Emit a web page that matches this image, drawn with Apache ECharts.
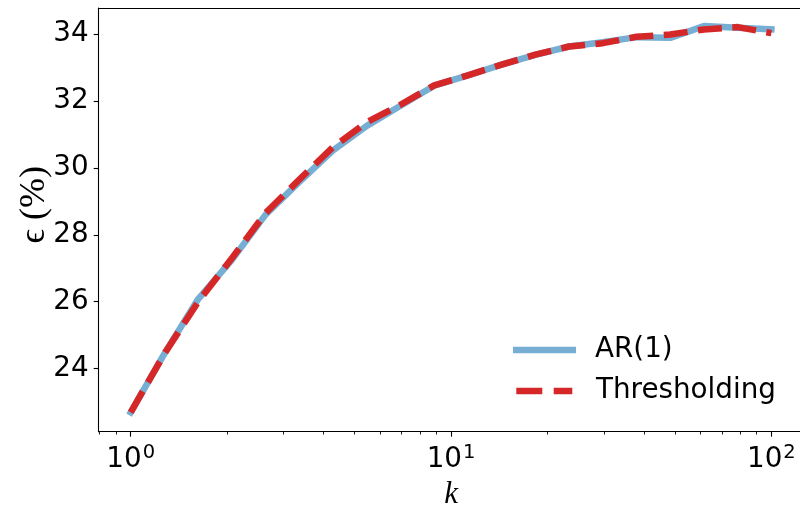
<!DOCTYPE html>
<html>
<head>
<meta charset="utf-8">
<script src="https://cdn.jsdelivr.net/npm/echarts@6/dist/echarts.min.js"></script>
<style>html,body{margin:0;padding:0;background:#fff;}#c{width:800px;height:506px;}</style>
</head>
<body>
<div id="c"></div>
<script>
// k values (log-spaced, 20 points from 1 to 100)
const kValues = [1, 1.274, 1.624, 2.069, 2.637, 3.360, 4.281, 5.456, 6.952, 8.859,
                 11.288, 14.384, 18.330, 23.357, 29.764, 37.927, 48.329, 61.585, 78.476, 100];
const ar1 = [22.70, 24.45, 26.08, 27.25, 28.60, 29.58, 30.52, 31.25, 31.85, 32.45,
             32.76, 33.08, 33.37, 33.62, 33.75, 33.90, 33.88, 34.23, 34.18, 34.13];
const thresholding = [22.70, 24.45, 26.00, 27.30, 28.65, 29.65, 30.62, 31.36, 31.88, 32.46,
                      32.76, 33.08, 33.38, 33.62, 33.72, 33.91, 33.98, 34.13, 34.20, 34.02];
const xMajorTicks = [1, 10, 100];
const xMinorTicks = [0.8, 0.9, 2, 3, 4, 5, 6, 7, 8, 9, 20, 30, 40, 50, 60, 70, 80, 90];
const yTicks = [24, 26, 28, 30, 32, 34];
const seriesNames = ['AR(1)', 'Thresholding'];

const xMin = 0.7943, xMax = 125.89;
const yMin = 22.12, yMax = 34.77;
const gridPos = {left: 98.7, right: -3.4, top: 8, bottom: 74.3};
const tickFont = 'DejaVu Sans';
const blue = '#76aed4', red = '#d62728';

const legendText = {fontFamily: tickFont, fontSize: 27.8, color: '#000', lineHeight: 30};

const chart = echarts.init(document.getElementById('c'), null, {renderer: 'canvas'});
chart.setOption({
  animation: false,
  backgroundColor: '#fff',
  grid: [
    Object.assign({show: false, containLabel: false, outerBoundsMode: 'none'}, gridPos),
    Object.assign({show: false, containLabel: false, outerBoundsMode: 'none'}, gridPos)
  ],
  xAxis: [
    {
      type: 'log', logBase: 10, gridIndex: 0, min: xMin, max: xMax, position: 'bottom',
      name: 'k', nameLocation: 'middle', nameGap: 48, nameMoveOverlap: false,
      nameTextStyle: {fontFamily: 'Liberation Serif', fontStyle: 'italic', fontSize: 31, color: '#000'},
      axisLine: {show: true, onZero: false, lineStyle: {color: '#000', width: 1.1}},
      axisTick: {show: true, inside: false, length: 5, customValues: xMajorTicks, lineStyle: {color: '#000', width: 1.1}},
      axisLabel: {
        show: true, margin: 10, customValues: xMajorTicks, color: '#000',
        formatter: function (v) { return '{b|10}{s|' + Math.round(Math.log10(v)) + '}'; },
        rich: {
          b: {fontFamily: tickFont, fontSize: 27.8, color: '#000', verticalAlign: 'bottom', lineHeight: 32},
          s: {fontFamily: tickFont, fontSize: 19.5, color: '#000', verticalAlign: 'bottom', padding: [0, 0, 11, 1]}
        }
      },
      splitLine: {show: false}, minorTick: {show: false}
    },
    {
      type: 'log', logBase: 10, gridIndex: 0, min: xMin, max: xMax, position: 'top',
      axisLine: {show: true, onZero: false, lineStyle: {color: '#000', width: 1.1}},
      axisTick: {show: false}, axisLabel: {show: false}, splitLine: {show: false}
    },
    {
      type: 'log', logBase: 10, gridIndex: 1, min: xMin, max: xMax,
      axisLine: {show: false},
      axisTick: {show: true, inside: false, length: 2.8, customValues: xMinorTicks, lineStyle: {color: '#000', width: 0.9}},
      axisLabel: {show: false},
      splitLine: {show: false}
    }
  ],
  yAxis: [
    {
      type: 'value', gridIndex: 0, min: yMin, max: yMax,
      name: 'ϵ (%)', nameLocation: 'middle', nameRotate: 90, nameGap: 46, nameMoveOverlap: false,
      nameTextStyle: {fontFamily: 'Liberation Serif', fontSize: 36, color: '#000', padding: [0, 0, 0, 30]},
      axisLine: {show: true, onZero: false, lineStyle: {color: '#000', width: 1.1}},
      axisTick: {show: true, inside: false, length: 5, customValues: yTicks, lineStyle: {color: '#000', width: 1.1}},
      axisLabel: {show: true, margin: 10, customValues: yTicks, fontFamily: tickFont, fontSize: 27.8, color: '#000'},
      splitLine: {show: false}
    },
    {type: 'value', gridIndex: 1, min: yMin, max: yMax, show: false}
  ],
  legend: [
    {
      show: true, orient: 'vertical', left: 513, top: 335, padding: 0,
      itemWidth: 63, itemHeight: 6.5, symbolKeepAspect: false,
      data: [{name: seriesNames[0], icon: 'path://M0,0H63V6.5H0Z'}],
      textStyle: Object.assign({padding: [0, 0, 0, 14]}, legendText)
    },
    {
      show: true, orient: 'vertical', left: 516.3, top: 376, padding: 0,
      itemWidth: 56, itemHeight: 6.5, symbolKeepAspect: false,
      data: [{name: seriesNames[1], icon: 'path://M0,0H26V6.5H0Z M37.4,0H56V6.5H37.4Z'}],
      textStyle: Object.assign({padding: [0, 0, 0, 18.7]}, legendText)
    }
  ],
  series: [
    {
      name: seriesNames[0], type: 'line', xAxisIndex: 0, yAxisIndex: 0,
      data: kValues.map((k, i) => [k, ar1[i]]),
      symbol: 'none', showSymbol: false, z: 2,
      lineStyle: {color: blue, width: 6.5, cap: 'square', join: 'round'},
      itemStyle: {color: blue}
    },
    {
      name: seriesNames[1], type: 'line', xAxisIndex: 0, yAxisIndex: 0,
      data: kValues.map((k, i) => [k, thresholding[i]]),
      symbol: 'none', showSymbol: false, z: 3,
      lineStyle: {color: red, width: 6.5, type: [24, 10.5], cap: 'butt', join: 'round'},
      itemStyle: {color: red}
    }
  ]
});
</script>
</body>
</html>
